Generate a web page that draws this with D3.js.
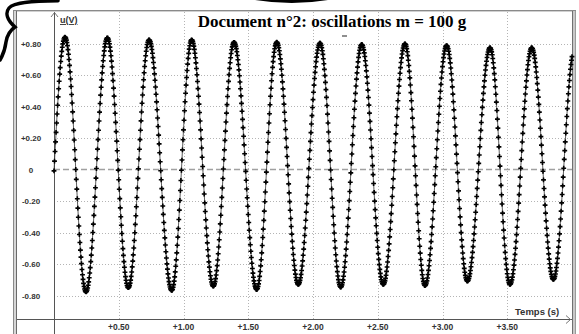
<!DOCTYPE html>
<html><head><meta charset="utf-8">
<script src="https://cdn.jsdelivr.net/npm/d3@7"></script>
<style>html,body{margin:0;padding:0;background:#fff;overflow:hidden}svg{display:block}</style>
</head><body>
<script>
// ---- data ----
const title = "Document n°2: oscillations m = 100 g";
const yLabel = "u(V)";
const xLabel = "Temps (s)";
const yTicks = [0.8, 0.6, 0.4, 0.2, 0, -0.2, -0.4, -0.6, -0.8];
const yTickLabels = ["+0.80", "+0.60", "+0.40", "+0.20", "0", "-0.20", "-0.40", "-0.60", "-0.80"];
const xTicks = [0.5, 1.0, 1.5, 2.0, 2.5, 3.0, 3.5];
const xTickLabels = ["+0.50", "+1.00", "+1.50", "+2.00", "+2.50", "+3.00", "+3.50"];
// extrema of the recorded signal (time in s, voltage in V)
const peakT = [0.085, 0.412, 0.734, 1.063, 1.390, 1.720, 2.054, 2.376, 2.710, 3.032, 3.367, 3.689, 4.020];
const peakU = [0.840, 0.836, 0.823, 0.823, 0.808, 0.808, 0.802, 0.794, 0.798, 0.787, 0.773, 0.773, 0.770];
const troughT = [-0.080, 0.247, 0.574, 0.909, 1.230, 1.565, 1.886, 2.214, 2.543, 2.865, 3.192, 3.521, 3.856];
const troughU = [-0.780, -0.777, -0.751, -0.768, -0.741, -0.762, -0.730, -0.747, -0.730, -0.737, -0.709, -0.730, -0.698];
const sampleStep = 0.004; // acquisition period (s)
const tEnd = 4.0;

// ---- build the sampled series between successive extrema ----
const extrema = [];
troughT.forEach((t, i) => extrema.push({t, u: troughU[i]}));
peakT.forEach((t, i) => extrema.push({t, u: peakU[i]}));
extrema.sort((a, b) => a.t - b.t);
const samples = [];
for (let k = 0; k * sampleStep <= tEnd + 1e-9; k++) {
  const t = k * sampleStep;
  let i = 0;
  while (i < extrema.length - 2 && extrema[i + 1].t < t) i++;
  const a = extrema[i], b = extrema[i + 1];
  const s = (t - a.t) / (b.t - a.t);
  samples.push({t, u: a.u + (b.u - a.u) * (1 - Math.cos(Math.PI * s)) / 2});
}

const W = 579, H = 334;
const svg = d3.select("body").append("svg").attr("width", W).attr("height", H);
const x = d3.scaleLinear().domain([0, 4]).range([54, 572]);
const y = d3.scaleLinear().domain([-0.8, 0.8]).range([295.5, 43.5]);

// window frame
svg.append("rect").attr("x", 13).attr("y", 10).attr("width", 4).attr("height", H - 10).attr("fill", "#d6d6d6");
svg.append("line").attr("x1", 13.5).attr("x2", 13.5).attr("y1", 10).attr("y2", H).attr("stroke", "#8a8a8a");
svg.append("line").attr("x1", 16.5).attr("x2", 16.5).attr("y1", 10).attr("y2", H).attr("stroke", "#6a6a6a");
svg.append("rect").attr("x", 572).attr("y", 10).attr("width", 4).attr("height", H - 10).attr("fill", "#c8c8c8");
svg.append("line").attr("x1", 572.5).attr("x2", 572.5).attr("y1", 10).attr("y2", H).attr("stroke", "#707070");
svg.append("line").attr("x1", 575.5).attr("x2", 575.5).attr("y1", 10).attr("y2", H).attr("stroke", "#9a9a9a");
svg.append("line").attr("x1", 13).attr("x2", 576).attr("y1", 10.5).attr("y2", 10.5).attr("stroke", "#8a8a8a");
svg.append("line").attr("x1", 17).attr("x2", 572).attr("y1", 11.5).attr("y2", 11.5).attr("stroke", "#d0d0d0");

// grid
const g = svg.append("g");
g.selectAll(".hg").data(yTicks.filter(v => v !== 0)).join("line")
  .attr("x1", x(0)).attr("x2", 572).attr("y1", d => Math.round(y(d)) + 0.5).attr("y2", d => Math.round(y(d)) + 0.5)
  .attr("stroke", "#b4b4b4").attr("stroke-dasharray", "1,2");
g.selectAll(".vg").data(xTicks).join("line")
  .attr("y1", 12).attr("y2", 320).attr("x1", d => Math.round(x(d)) + 0.5).attr("x2", d => Math.round(x(d)) + 0.5)
  .attr("stroke", "#b4b4b4").attr("stroke-dasharray", "1,2");
g.append("line").attr("x1", x(0)).attr("x2", 572).attr("y1", y(0)).attr("y2", y(0))
  .attr("stroke", "#a0a0a0").attr("stroke-width", 1.6).attr("stroke-dasharray", "6,3");

// axes
svg.append("line").attr("x1", x(0) + 0.5).attr("x2", x(0) + 0.5).attr("y1", 12).attr("y2", H).attr("stroke", "#555");
svg.append("path").attr("d", `M${x(0) - 3},17 L${x(0) + 0.5},12.5 L${x(0) + 4},17`).attr("fill", "none").attr("stroke", "#777");
svg.append("line").attr("x1", 17).attr("x2", 572).attr("y1", 319.5).attr("y2", 319.5).attr("stroke", "#555");
svg.append("path").attr("d", "M566,315.5 L570.5,319.5 L566,323.5").attr("fill", "none").attr("stroke", "#777");

// tick labels
svg.selectAll(".yl").data(yTicks).join("text")
  .attr("x", 31).attr("y", d => y(d) + 3).attr("text-anchor", "middle")
  .attr("font-family", "Liberation Sans, Arial, sans-serif").attr("font-weight", "bold").attr("font-size", 8)
  .attr("fill", "#333").text((d, i) => yTickLabels[i]);
svg.selectAll(".xl").data(xTicks).join("text")
  .attr("x", d => x(d)).attr("y", 330).attr("text-anchor", "middle")
  .attr("font-family", "Liberation Sans, Arial, sans-serif").attr("font-weight", "bold").attr("font-size", 8.5)
  .attr("fill", "#333").text((d, i) => xTickLabels[i]);
svg.append("text").attr("x", 515).attr("y", 315).attr("font-family", "Liberation Sans, Arial, sans-serif")
  .attr("font-weight", "bold").attr("font-size", 9.5).attr("fill", "#333").text(xLabel);
svg.append("text").attr("x", 60).attr("y", 23).attr("font-family", "Liberation Sans, Arial, sans-serif")
  .attr("font-weight", "bold").attr("font-size", 9).attr("fill", "#333").attr("text-decoration", "underline").text(yLabel);

// title
svg.append("text").attr("x", 332).attr("y", 26.5).attr("text-anchor", "middle")
  .attr("font-family", "Liberation Serif, Times New Roman, serif").attr("font-weight", "bold").attr("font-size", 17)
  .attr("fill", "#000").text(title);

// series
const line = d3.line().x(d => x(d.t)).y(d => y(d.u));
svg.append("path").datum(samples).attr("d", line).attr("fill", "none").attr("stroke", "#333").attr("stroke-width", 0.8);
const sym = d3.symbol().type(d3.symbolCross).size(13);
svg.append("g").selectAll("path").data(samples).join("path")
  .attr("transform", d => `translate(${x(d.t)},${y(d.u)})`).attr("d", sym).attr("fill", "#000");

// scan marks
svg.append("path").attr("d", "M58,0.8 C35,1 14,2 9,8 C5,13 7,20 15,27 C9,31 7,36 6,42 C5,50 3,55 0,60")
  .attr("fill", "none").attr("stroke", "#000").attr("stroke-width", 3.5).attr("stroke-linecap", "round");
svg.append("path").attr("d", "M255,0 Q292,6 328,0 Z").attr("fill", "#000");
svg.append("path").attr("d", "M342,36 L347,36").attr("stroke", "#444").attr("stroke-width", 1.2);
</script>
</body></html>
